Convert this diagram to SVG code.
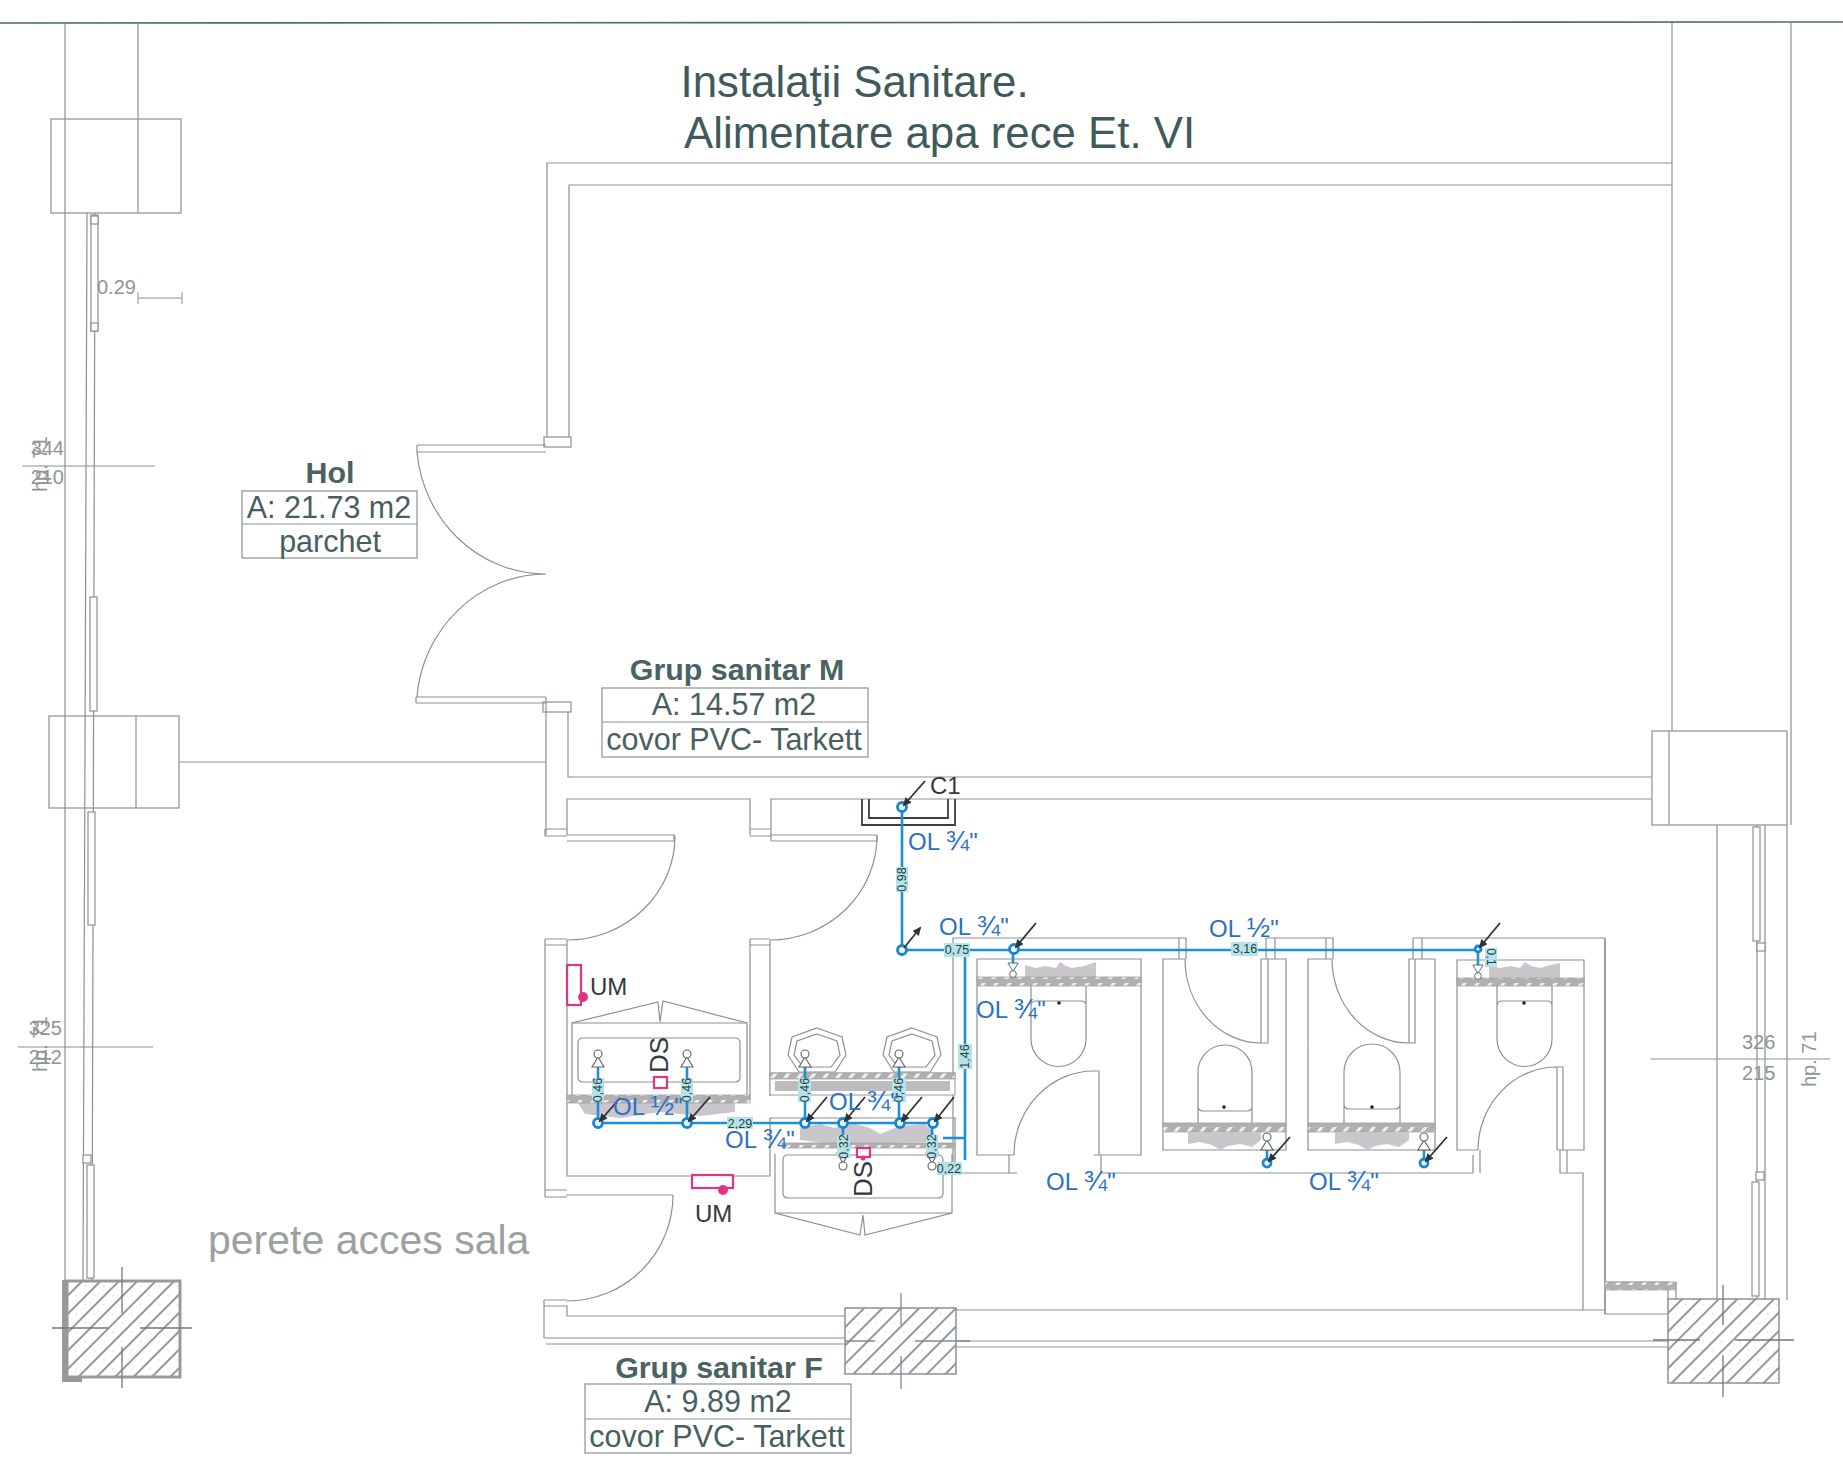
<svg xmlns="http://www.w3.org/2000/svg" width="1843" height="1460" viewBox="0 0 1843 1460">
<style>
text{font-family:"Liberation Sans",Arial,sans-serif}
.w{fill:none;stroke:#8b9192;stroke-width:1.2}
.c{fill:#fff;stroke:#8b9192;stroke-width:1.2}
.d{fill:none;stroke:#8a8f90;stroke-width:1}
.t{fill:#47605f;font-size:30.5px;text-anchor:middle}
.b{fill:#4a6262;font-size:30.4px;font-weight:bold;text-anchor:middle}
.g{fill:#8e9596;font-size:20px}
.e{fill:#33393a;font-size:24px}
.ds{fill:#33393a;font-size:26px}
.ol{fill:#2a70c4;font-size:24px}
.ol tspan{font-size:28px}
.p{fill:none;stroke:#1b8fd8;stroke-width:2.6}
.n{fill:#e4f6fb;stroke:#1b84d0;stroke-width:2.8}
.a{stroke:#2e3335;stroke-width:1.8;fill:none;marker-end:url(#ah)}
.lb{fill:#b4e4ea}
.lt{fill:#26403f;font-size:12.5px;text-anchor:middle}
.pk{fill:#fff;stroke:#e23480;stroke-width:2.2}
.pd{fill:#e23480}
.hx{fill:url(#hatch);stroke:#8b9192;stroke-width:1.5}
.bd{fill:url(#band);stroke:#a3a3a5;stroke-width:.8}
.bl{fill:#cbc6cb}
.f{fill:#fff;stroke:#5c6264;stroke-width:1.1}
</style>
<defs>
<marker id="ah" markerWidth="9" markerHeight="8" refX="7" refY="4" orient="auto" markerUnits="userSpaceOnUse"><path d="M0 0L9 4L0 8z" fill="#2e3335"/></marker>
<pattern id="hatch" width="13" height="13" patternUnits="userSpaceOnUse" patternTransform="rotate(45)"><rect width="13" height="13" fill="#fff"/><line x1="2" y1="0" x2="2" y2="13" stroke="#4c5253" stroke-width="1.2"/><circle cx="8" cy="4" r=".6" fill="#a8adad"/></pattern>
<pattern id="band" width="13" height="9" patternUnits="userSpaceOnUse"><rect width="13" height="9" fill="#b0b0b2"/><path d="M3 7L7 2H11L7 7z" fill="#f0f0f0"/></pattern>
<g id="fx"><path d="M0-10L-6 0H6z" class="f"/><circle cy="-13" r="4" class="f"/></g>
<path id="hep" d="M817 1028L842 1037L846 1055L835 1072H799L788 1055L792 1037Z M817 1034L837 1041L840 1055L831 1067H803L794 1055L797 1041Z" class="w"/>
</defs>
<rect width="1843" height="1460" fill="#fff"/>

<g id="plan-walls">
<line x1="0" y1="23" x2="1843" y2="22" stroke="#4d6a6a" stroke-width="1.6"/>
<path class="w" d="M65 23V1280M138 23V213M1672 23V731M1791 23V825"/>
<rect class="c" x="51" y="119" width="130" height="94"/><path class="w" d="M65 119V213M138 119V213"/>
<rect class="c" x="49" y="716" width="130" height="92"/><path class="w" d="M65 716V808M136 716V808"/>
<path class="w" d="M179 762H546M547 445V163H1672M569 437V185H1672M568 712V777H1652M567 835V799H750V835M771 841V799H1652"/>
<rect class="c" x="544" y="437" width="27" height="10"/><rect class="c" x="543" y="702" width="28" height="10"/>
<path class="w" d="M417 445H546M417 452H546M417 452V445M416 697H546M416 703H546M416 703V697M546 697V835"/>
<path class="w" d="M417 452C423 520 478 574 546 574C478 574 422 630 417 697"/>
<path class="w" d="M545 829H567M545 836H567M545 829V836M750 829H771M750 836H771"/>
<path class="w" d="M567 841H674V835M771 841H877V835M567 835H675M771 835H877"/>
<path class="w" d="M675 836A108 104 0 0 1 567 940M877 836A107 104 0 0 1 770 940"/>
<path class="w" d="M545 939H567M545 945H567M750 939H770M750 945H770M545 939V1197M567 940V1176H770V1118M750 939V1100M770 940V1096"/>
<path class="w" d="M545 1190H567M545 1197H567M566 1195H673M673 1195A106 106 0 0 1 567 1301"/>
<path class="w" d="M544 1300H567M544 1306H567V1316H845M544 1300V1338M544 1338H845M546 1344H845M956 1341H1668M956 1347H1668M956 1310H1605M1605 1314H1668"/>
<path class="w" d="M770 1118H955V1140M955 1140V1173M953 938V1173H1017M1009 1155V1173M1101 1155V1173H1473M1473 1155V1173M1480 1150V1173M1560 1150V1173H1583V1310M1567 1150V1173H1583"/>
<path class="w" d="M953 938H1179V959M1179 938H1186V959M1266 938H1326V959M1266 938V959M1275 938V959M1326 938H1333V959M1413 938V959M1422 938V959M1413 938H1605V1314"/>
<path class="w" d="M1652 778H1672M1605 939V1314"/>
<rect class="c" x="1652" y="731" width="135" height="94"/><path class="w" d="M1669 731V825M1717 825V1300M1787 825V1300"/>
<path class="w" d="M1605 1282H1668V1300M1676 1282V1300"/><rect class="bd" x="1605" y="1282" width="71" height="8"/>
</g>

<g id="windows">
<path class="w" d="M87 213L83 1280M95 213L92 1280"/>
<rect class="c" x="91" y="215" width="7" height="116"/><rect class="c" x="91" y="216" width="7" height="8"/><rect class="c" x="91" y="323" width="7" height="8"/>
<rect class="c" x="90" y="597" width="7" height="114"/>
<rect class="c" x="88" y="812" width="7" height="113"/>
<rect class="c" x="87" y="1165" width="7" height="113"/><rect class="c" x="83" y="1155" width="8" height="8"/>
<path class="w" d="M1757 825V1300M1765 825V1300"/>
<rect class="c" x="1753" y="827" width="7" height="114"/><rect class="c" x="1757" y="943" width="8" height="8"/>
<rect class="c" x="1752" y="1182" width="7" height="114"/><rect class="c" x="1756" y="1172" width="8" height="8"/>
</g>

<g id="columns">
<rect x="62" y="1280" width="6" height="102" fill="#999"/><rect x="62" y="1377" width="20" height="5" fill="#999"/>
<rect class="hx" x="67" y="1281" width="113" height="96" style="stroke:#999;stroke-width:3"/>
<path class="d" d="M122 1267V1313M122 1347V1388M52 1328H108M140 1328H192" style="stroke:#777;stroke-width:1.3"/>
<rect class="hx" x="845" y="1308" width="111" height="66"/>
<path class="d" d="M901 1293V1325M901 1356V1389M845 1341H875M915 1341H970" style="stroke:#7c8aa0;stroke-width:1.3"/>
<rect class="hx" x="1668" y="1299" width="111" height="84"/>
<path class="d" d="M1723 1285V1325M1723 1355V1397M1653 1340H1700M1735 1340H1794" style="stroke:#777;stroke-width:1.3"/>
</g>

<g id="wc-cabins">
<path class="w" d="M977 959H1141V1155H1094M1014 1155H977V959M1094 1071H1099V1155M1094 1071A80 84 0 0 0 1014 1155"/>
<path class="bl" d="M1025 977V965L1036 968L1045 966L1056 968L1060 962L1066 966L1072 968L1084 966L1096 962V977Z"/>
<rect class="bd" x="977" y="977" width="164" height="9"/>
<path class="w" d="M1031 986V1039A27 27 0 0 0 1086 1039V986M1031 1006Q1031 1001 1036 1001H1081Q1086 1001 1086 1006"/>
<circle cx="1059" cy="1003" r="1.8" fill="#222"/>
<path class="w" d="M1185 959H1163V1150H1286V959H1261V1043H1268V959M1185 959A76 84 0 0 0 1261 1043"/>
<path class="w" d="M1198 1123V1072A27 27 0 0 1 1252 1072V1123M1198 1100V1106Q1198 1111 1203 1111H1247Q1252 1111 1252 1106V1100"/>
<circle cx="1224" cy="1107" r="1.8" fill="#222"/>
<rect class="bd" x="1163" y="1123" width="123" height="9"/>
<path class="bl" d="M1188 1132V1144L1200 1142L1212 1145L1220 1150L1228 1146L1240 1144L1252 1147L1261 1140V1132Z"/>
<path class="w" d="M1332 959H1308V1150H1435V959H1409V1043H1415V959M1332 959A77 84 0 0 0 1409 1043"/>
<path class="w" d="M1344 1123V1072A28 28 0 0 1 1400 1072V1123M1344 1100V1104Q1344 1109 1349 1109H1395Q1400 1109 1400 1104V1100"/>
<circle cx="1372" cy="1107" r="1.8" fill="#222"/>
<rect class="bd" x="1308" y="1123" width="127" height="9"/>
<path class="bl" d="M1335 1132V1144L1347 1142L1359 1145L1367 1150L1375 1146L1387 1144L1399 1147L1409 1140V1132Z"/>
<path class="w" d="M1557 1150H1584V960H1457V1150H1478M1557 1067H1563V1150M1557 1067V1150M1557 1067A79 83 0 0 0 1478 1150"/>
<path class="bl" d="M1489 978V965L1500 968L1510 966L1520 968L1525 962L1531 966L1540 968L1550 965L1560 963V978Z"/>
<rect class="bd" x="1457" y="978" width="127" height="8"/>
<path class="w" d="M1497 986V1039A27 27 0 0 0 1552 1039V986M1497 1006Q1497 1001 1502 1001H1547Q1552 1001 1552 1006"/>
<circle cx="1524" cy="1003" r="1.8" fill="#222"/>
</g>

<g id="lavatories">
<path class="w" d="M572 1095V1023L658 1002L660 1022L663 1001L747 1023V1095"/>
<path class="w" d="M572 1023H747M583 1038H735Q740 1038 740 1043V1077Q740 1082 735 1082H583Q578 1082 578 1077V1043Q578 1038 583 1038Z"/>
<path class="bl" d="M578 1103L590 1100L600 1102L625 1096L640 1102L670 1100L700 1095L735 1102V1112L700 1116L660 1112L620 1118L585 1114Z"/>
<rect class="bd" x="567" y="1095" width="183" height="8"/>
<use href="#hep"/><use href="#hep" x="95"/>
<rect x="770" y="1073" width="185" height="22" fill="#fff" stroke="#9a9a9c"/>
<rect class="bd" x="770" y="1073" width="185" height="6"/>
<rect x="775" y="1081" width="175" height="10" fill="#bcbcbe"/>
<path class="bl" d="M800 1128L820 1124L835 1128L850 1122L870 1128L880 1134L900 1126L925 1124L935 1134L930 1142L880 1143L830 1144L800 1140Z"/>
<rect class="bd" x="782" y="1143" width="173" height="5"/>
<path class="w" d="M775 1154V1213L860 1235L863 1215L865 1235L952 1213V1154M775 1213H952M788 1155H938Q943 1155 943 1160V1193Q943 1198 938 1198H788Q783 1198 783 1193V1160Q783 1155 788 1155Z"/>
</g>

<g id="c1-box">
<path d="M862 799V825H955V799M869 799V818H948V799" fill="none" stroke="#3a3f40" stroke-width="1.8"/>
</g>

<g id="devices">
<rect class="pk" x="567" y="965" width="14" height="40"/><circle class="pd" cx="583" cy="997" r="5"/>
<rect class="pk" x="692" y="1175" width="41" height="13"/><circle class="pd" cx="723" cy="1190" r="5"/>
<rect class="pk" x="654" y="1077" width="13" height="11"/>
<rect class="pk" x="857" y="1148" width="13" height="9"/><circle class="pd" cx="863" cy="1158" r="2.500"/>
</g>

<g id="connectors">
<path class="p" d="M902 807V950H1478M965 950V1160M943 1138H965M598 1123H933M598 1123V1067M687 1123V1067M805 1123V1067M899 1123V1067M843 1123V1153M932 1123V1153M1013 950V963M1478 950V965M1267 1150V1163M1424 1150V1163"/>
<use href="#fx" x="598" y="1067"/><use href="#fx" x="687" y="1067"/><use href="#fx" x="805" y="1067"/><use href="#fx" x="899" y="1067"/>
<use href="#fx" transform="translate(843 1153) scale(1 -1)"/><use href="#fx" transform="translate(932 1153) scale(1 -1)"/>
<use href="#fx" transform="translate(1013 963) scale(.85 -.85)"/><use href="#fx" transform="translate(1478 965) scale(.85 -.85)"/>
<use href="#fx" x="1267" y="1150"/><use href="#fx" x="1424" y="1150"/>
<circle class="n" cx="902" cy="807" r="4.500"/><circle class="n" cx="902" cy="950" r="4.500"/><circle class="n" cx="1014" cy="949" r="4.500"/><circle class="n" cx="1478" cy="949" r="3"/>
<circle class="n" cx="598" cy="1123" r="4.500"/><circle class="n" cx="687" cy="1123" r="4.500"/><circle class="n" cx="805" cy="1123" r="4.500"/><circle class="n" cx="843" cy="1123" r="4.500"/><circle class="n" cx="900" cy="1123" r="4.500"/><circle class="n" cx="933" cy="1123" r="4.500"/>
<circle class="n" cx="1267" cy="1163" r="4"/><circle class="n" cx="1424" cy="1163" r="4"/>
<line class="a" x1="925" y1="781" x2="904" y2="805"/><line class="a" x1="904" y1="948" x2="920" y2="928"/>
<line class="a" x1="1036" y1="923" x2="1016" y2="947"/><line class="a" x1="1500" y1="923" x2="1480" y2="947"/>
<line class="a" x1="620" y1="1098" x2="600" y2="1121"/><line class="a" x1="710" y1="1097" x2="689" y2="1121"/><line class="a" x1="827" y1="1097" x2="807" y2="1121"/><line class="a" x1="865" y1="1097" x2="845" y2="1121"/><line class="a" x1="922" y1="1097" x2="902" y2="1121"/><line class="a" x1="954" y1="1097" x2="935" y2="1121"/>
<line class="a" x1="1290" y1="1137" x2="1269" y2="1161"/><line class="a" x1="1447" y1="1137" x2="1426" y2="1161"/>
</g>

<g id="pipe-lengths">
<rect class="lb" x="896" y="867" width="12" height="25"/><text class="lt" transform="rotate(-90 906 879.500)" x="906" y="879.500">0,98</text>
<rect class="lb" x="944" y="943" width="26" height="14"/><text class="lt" x="957" y="954">0,75</text>
<rect class="lb" x="1231" y="942" width="27" height="14"/><text class="lt" x="1245" y="953">3,16</text>
<rect class="lb" x="1485" y="948" width="12" height="19"/><text class="lt" transform="rotate(90 1487 957)" x="1487" y="957">0,1</text>
<rect class="lb" x="958" y="1044" width="14" height="25"/><text class="lt" transform="rotate(-90 969 1056.500)" x="969" y="1056.500">1,46</text>
<rect class="lb" x="592" y="1078" width="12" height="24"/><text class="lt" transform="rotate(-90 602 1090)" x="602" y="1090">0,46</text>
<rect class="lb" x="681" y="1078" width="12" height="24"/><text class="lt" transform="rotate(-90 691 1090)" x="691" y="1090">0,46</text>
<rect class="lb" x="798" y="1078" width="13" height="24"/><text class="lt" transform="rotate(-90 809 1090)" x="809" y="1090">0,46</text>
<rect class="lb" x="892" y="1078" width="14" height="24"/><text class="lt" transform="rotate(-90 903 1090)" x="903" y="1090">0,46</text>
<rect class="lb" x="727" y="1117" width="26" height="12"/><text class="lt" x="740" y="1128">2,29</text>
<rect class="lb" x="837" y="1135" width="13" height="23"/><text class="lt" transform="rotate(-90 848 1146.500)" x="848" y="1146.500">0,32</text>
<rect class="lb" x="926" y="1135" width="12" height="23"/><text class="lt" transform="rotate(-90 936 1146.500)" x="936" y="1146.500">0,32</text>
<rect class="lb" x="937" y="1162" width="25" height="13"/><text class="lt" x="949" y="1173">0,22</text>
</g>

<g id="pipe-labels">
<text class="ol" x="908" y="850">OL <tspan>¾</tspan>"</text>
<text class="ol" x="939" y="935">OL <tspan>¾</tspan>"</text>
<text class="ol" x="976" y="1018">OL <tspan>¾</tspan>"</text>
<text class="ol" x="1209" y="937">OL <tspan>½</tspan>"</text>
<text class="ol" x="613" y="1115">OL <tspan>½</tspan>"</text>
<text class="ol" x="725" y="1148">OL <tspan>¾</tspan>"</text>
<text class="ol" x="829" y="1110">OL <tspan>¾</tspan>"</text>
<text class="ol" x="1046" y="1190">OL <tspan>¾</tspan>"</text>
<text class="ol" x="1309" y="1190">OL <tspan>¾</tspan>"</text>
<text class="e" x="930" y="794">C1</text>
<text class="e" x="590" y="995">UM</text>
<text class="e" x="695" y="1222">UM</text>
<text class="ds" transform="rotate(-90 668 1073)" x="668" y="1073">DS</text>
<text class="ds" transform="rotate(-90 872 1197)" x="872" y="1197">DS</text>
</g>

<g id="title">
<text x="680.500" y="96.500" font-size="43.800" fill="#3f5a5c">Instalaţii Sanitare.</text>
<text x="684" y="148" font-size="43.800" fill="#3f5a5c">Alimentare apa rece Et. VI</text>
</g>

<g id="room-hol">
<text class="b" x="330" y="482.500">Hol</text>
<rect class="c" x="242" y="491" width="175" height="67"/><line class="w" x1="242" y1="524" x2="417" y2="524"/>
<text class="t" x="329" y="518">A: 21.73 m2</text><text class="t" x="330" y="552">parchet</text>
</g>
<g id="room-m">
<text class="b" x="737" y="680">Grup sanitar M</text>
<rect class="c" x="602" y="688" width="266" height="69"/><line class="w" x1="602" y1="722" x2="868" y2="722"/>
<text class="t" x="734" y="715">A: 14.57 m2</text><text class="t" x="734" y="750">covor PVC- Tarkett</text>
</g>
<g id="room-f">
<text class="b" x="719" y="1377.500">Grup sanitar F</text>
<rect class="c" x="585" y="1384" width="266" height="69"/><line class="w" x1="585" y1="1419" x2="851" y2="1419"/>
<text class="t" x="718" y="1412">A: 9.89 m2</text><text class="t" x="717" y="1447">covor PVC- Tarkett</text>
</g>

<g id="dimensions">
<text x="208" y="1254" font-size="41" fill="#9ba0a0">perete acces sala</text>
<text class="g" x="97" y="294">0.29</text>
<path class="d" d="M138 298H182M138 292V304M182 292V304"/>
<path class="d" d="M22 466H155M18 1047H153M1651 1059H1830"/>
<text class="g" x="64" y="455" text-anchor="end">344</text><text class="g" x="64" y="484" text-anchor="end">210</text>
<text class="g" x="62" y="1035" text-anchor="end">325</text><text class="g" x="62" y="1064" text-anchor="end">212</text>
<text class="g" transform="rotate(-90 47 492)" x="47" y="492">hp. 71</text>
<text class="g" transform="rotate(-90 47 1072)" x="47" y="1072">hp. 71</text>
<text class="g" x="1742" y="1049">326</text><text class="g" x="1742" y="1080">215</text>
<text class="g" transform="rotate(-90 1816 1087)" x="1816" y="1087">hp. 71</text>
</g>
</svg>
